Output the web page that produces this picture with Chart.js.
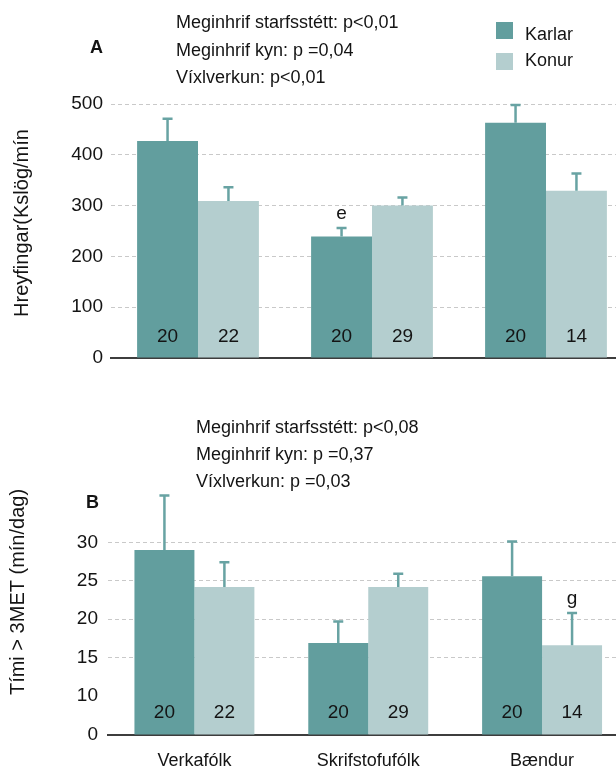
<!DOCTYPE html>
<html>
<head>
<meta charset="utf-8">
<script src="https://cdn.jsdelivr.net/npm/chart.js@4"></script>
<style>
  html, body { margin: 0; padding: 0; background: #fff; overflow: hidden; }
  #wrap { position: relative; width: 616px; height: 769px; overflow: hidden; }
  canvas { position: absolute; left: 0; }
  #chartA { top: 0; }
  #chartB { top: 380px; }
</style>
</head>
<body>
<div id="wrap">
  <canvas id="chartA" width="633" height="380"></canvas>
  <canvas id="chartB" width="629" height="389"></canvas>
</div>
<script>
// Categories and series
const groups = ['Verkafólk', 'Skrifstofufólk', 'Bændur'];
const seriesNames = ['Karlar', 'Konur'];

// A: Hreyfingar (means and upper SE)
const karlarA = [427, 239, 463];
const karlarErrA = [44, 17, 35];
const konurA = [309, 300, 329];
const konurErrA = [27, 16, 34];

// B: Tími > 3MET
const karlarB = [29.0, 16.9, 25.6];
const karlarErrB = [7.1, 2.8, 4.5];
const konurB = [24.2, 24.2, 16.6];
const konurErrB = [3.2, 1.7, 4.2];

// group sizes (n) shown inside bars
const nKarlar = [20, 20, 20];
const nKonur = [22, 29, 14];

// significance letters
const lettersKarlarA = ['', 'e', ''];
const lettersKonurA = ['', '', ''];
const lettersKarlarB = ['', '', ''];
const lettersKonurB = ['', '', 'g'];

// tick values / labels (B axis is broken: bottom labelled 0)
const tickValuesA = [0, 100, 200, 300, 400, 500];
const tickLabelsA = ['0', '100', '200', '300', '400', '500'];
const tickValuesB = [5, 10, 15, 20, 25, 30];
const tickLabelsB = ['0', '10', '15', '20', '25', '30'];

const notesA = ['Meginhrif starfsstétt: p<0,01', 'Meginhrif kyn: p =0,04', 'Víxlverkun: p<0,01'];
const notesB = ['Meginhrif starfsstétt: p<0,08', 'Meginhrif kyn: p =0,37', 'Víxlverkun: p =0,03'];

const FONT = "'Liberation Sans', Arial, Helvetica, sans-serif";
const INK = '#141414';
const KARLAR_COLOR = '#629e9e';
const KONUR_COLOR = '#b4cecf';
const ERR_COLOR = '#68a3a3';
const GRID_COLOR = '#c9c9c9';

// error bars, n labels, letters, notes, legend, titles
const extrasPlugin = {
  id: 'extras',
  afterDatasetsDraw(chart, args, opts) {
    const ctx = chart.ctx;
    const y = chart.scales.y;
    const base = y.getPixelForValue(y.min);
    ctx.save();
    chart.data.datasets.forEach((ds, i) => {
      const meta = chart.getDatasetMeta(i);
      meta.data.forEach((bar, j) => {
        const topErr = y.getPixelForValue(ds.data[j] + opts.errors[i][j]);
        ctx.strokeStyle = ERR_COLOR;
        ctx.lineWidth = 2.5;
        ctx.beginPath();
        ctx.moveTo(bar.x, bar.y);
        ctx.lineTo(bar.x, topErr);
        ctx.moveTo(bar.x - 5, topErr);
        ctx.lineTo(bar.x + 5, topErr);
        ctx.stroke();

        ctx.fillStyle = INK;
        ctx.font = '19px ' + FONT;
        ctx.textAlign = 'center';
        ctx.textBaseline = 'middle';
        ctx.fillText(String(opts.counts[i][j]), bar.x, base - 21.5);

        const letter = opts.letters[i][j];
        if (letter) {
          ctx.textBaseline = 'alphabetic';
          ctx.fillText(letter, bar.x, topErr - 9);
        }
      });
    });
    ctx.restore();
  },
  afterDraw(chart, args, opts) {
    const ctx = chart.ctx;
    ctx.save();
    ctx.fillStyle = INK;
    ctx.textBaseline = 'middle';

    // notes
    ctx.font = '18px ' + FONT;
    ctx.textAlign = 'left';
    opts.notes.forEach((t, k) => ctx.fillText(t, opts.notesX, opts.notesY[k]));

    // panel letter
    ctx.font = 'bold 18px ' + FONT;
    ctx.textAlign = 'center';
    ctx.fillText(opts.panel, opts.panelX, opts.panelY);

    // legend
    if (opts.legend) {
      ctx.font = '18px ' + FONT;
      ctx.textAlign = 'left';
      chart.data.datasets.forEach((ds, i) => {
        ctx.fillStyle = ds.backgroundColor;
        ctx.fillRect(opts.legendX, opts.legendBoxY[i], 17, 17);
        ctx.fillStyle = INK;
        ctx.fillText(ds.label, opts.legendX + 29, opts.legendTextY[i]);
      });
    }

    // y axis title
    ctx.font = '20px ' + FONT;
    ctx.textAlign = 'center';
    ctx.translate(opts.titleX, opts.titleY);
    ctx.rotate(-Math.PI / 2);
    ctx.fillText(opts.title, 0, 0);
    ctx.restore();
  }
};

const chartA = new Chart(document.getElementById('chartA'), {
  type: 'bar',
  data: {
    labels: groups,
    datasets: [
      { label: seriesNames[0], data: karlarA, backgroundColor: KARLAR_COLOR },
      { label: seriesNames[1], data: konurA, backgroundColor: KONUR_COLOR }
    ]
  },
  options: {
    responsive: false,
    animation: false,
    layout: { padding: { left: 0, right: 0, top: 104, bottom: 22 } },
    datasets: { bar: { categoryPercentage: 0.70, barPercentage: 1, borderWidth: 0 } },
    scales: {
      x: {
        grid: { display: false, drawTicks: false },
        ticks: { display: false },
        border: { display: true, color: '#3d3d3d', width: 2 },
        afterFit: s => { s.height = 0; }
      },
      y: {
        min: 0, max: 500,
        afterBuildTicks: s => { s.ticks = tickValuesA.map(v => ({ value: v })); },
        ticks: { padding: 8, color: INK, font: { family: FONT, size: 19 }, callback: (v, i) => tickLabelsA[i] },
        grid: { drawTicks: false, color: c => (c.tick && c.tick.value > 0 ? GRID_COLOR : 'transparent') },
        border: { display: false, dash: [4, 3] },
        afterFit: s => { s.width = 111; }
      }
    },
    plugins: {
      legend: { display: false },
      tooltip: { enabled: false },
      extras: {
        errors: [karlarErrA, konurErrA],
        counts: [nKarlar, nKonur],
        letters: [lettersKarlarA, lettersKonurA],
        notes: notesA, notesX: 176, notesY: [23, 51, 78],
        panel: 'A', panelX: 96.5, panelY: 48.5,
        legend: true, legendX: 496, legendBoxY: [22, 53], legendTextY: [35, 61],
        title: 'Hreyfingar(Kslög/mín', titleX: 22.5, titleY: 223
      }
    }
  },
  plugins: [extrasPlugin]
});

const chartB = new Chart(document.getElementById('chartB'), {
  type: 'bar',
  data: {
    labels: groups,
    datasets: [
      { label: seriesNames[0], data: karlarB, backgroundColor: KARLAR_COLOR },
      { label: seriesNames[1], data: konurB, backgroundColor: KONUR_COLOR }
    ]
  },
  options: {
    responsive: false,
    animation: false,
    layout: { padding: { left: 0, right: 0, top: 108.5, bottom: 0 } },
    datasets: { bar: { categoryPercentage: 0.69, barPercentage: 1, borderWidth: 0 } },
    scales: {
      x: {
        grid: { display: false, drawTicks: false },
        ticks: { padding: 15.5, color: INK, font: { family: FONT, size: 18 } },
        border: { display: true, color: '#3d3d3d', width: 2 },
        afterFit: s => { s.height = 34.5; }
      },
      y: {
        min: 5, max: 37,
        afterBuildTicks: s => { s.ticks = tickValuesB.map(v => ({ value: v })); },
        ticks: { padding: 9.5, color: INK, font: { family: FONT, size: 19 }, callback: (v, i) => tickLabelsB[i] },
        grid: { drawTicks: false, color: c => (c.tick && c.tick.value >= 15 ? GRID_COLOR : 'transparent') },
        border: { display: false, dash: [4, 3] },
        afterFit: s => { s.width = 107.5; }
      }
    },
    plugins: {
      legend: { display: false },
      tooltip: { enabled: false },
      extras: {
        errors: [karlarErrB, konurErrB],
        counts: [nKarlar, nKonur],
        letters: [lettersKarlarB, lettersKonurB],
        notes: notesB, notesX: 196, notesY: [48.3, 75, 101.7],
        panel: 'B', panelX: 92.5, panelY: 122.7,
        legend: false,
        title: 'Tími > 3MET (mín/dag)', titleX: 18.7, titleY: 212
      }
    }
  },
  plugins: [extrasPlugin]
});
</script>
</body>
</html>
